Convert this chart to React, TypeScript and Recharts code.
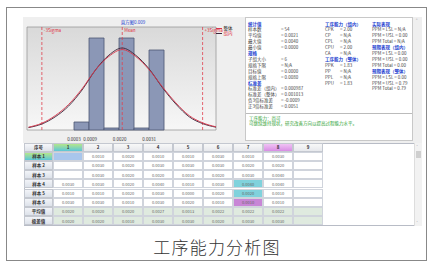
import { ComposedChart, Line, XAxis, YAxis, ReferenceArea, ReferenceLine, Legend } from "recharts";

const FONT = "'Noto Sans CJK SC', 'Noto Sans', sans-serif";

const binStart = [0.0003, 0.00086, 0.00142, 0.00198, 0.00254, 0.0031];
const binEnd = [0.00086, 0.00142, 0.00198, 0.00254, 0.0031, 0.00366];
const binCount = [2, 23, 0.5, 23, 0.5, 20];
const xTicks = [0.0003, 0.0009, 0.002, 0.0031];

// fitted curves
const curveX = [-0.0014, -0.0009, -0.0004, 0.0001, 0.0006, 0.0011, 0.0016, 0.0021, 0.0026, 0.0031, 0.0036, 0.0041, 0.0046, 0.0051, 0.0056];
const withinY = [0.6, 1.5, 3.3, 6.0, 10.0, 15.0, 18.7, 20.5, 18.7, 15.3, 10.6, 6.5, 3.3, 1.6, 0.7];
const overallY = [0.7, 1.7, 3.6, 6.4, 10.3, 15.0, 18.4, 20.1, 18.4, 15.1, 10.8, 6.8, 3.6, 1.8, 0.8];

const sigmaLines = [-0.0009, 0.0021, 0.0051];
const sigmaLabels = ["-3Sigma", "Mean", "+3Sigma"];

const stats1Labels = ["统计值", "样本数", "平均值", "最大值", "最小值", "规格", "子组大小", "规格下限", "目标值", "规格上限", "标准差", "标准差（组内）", "标准差（整体）", "负3倍标准差", "正3倍标准差"];
const stats1Values = [null, "= 54", "= 0.0021", "= 0.0040", "= 0.0000", null, "= 6", "= N/A", "= 0.0000", "= 0.0080", null, "= 0.000987", "= 0.001013", "= -0.0009", "= 0.0051"];
const stats2Labels = ["工序能力（组内）", "CPK", "CP", "CPL", "CPU", "CA", "工序能力（整体）", "PPK", "PP", "PPL", "PPU"];
const stats2Values = [null, "= 2.00", "= N/A", "= N/A", "= 2.00", "= N/A", null, "= 1.83", "= N/A", "= N/A", "= 1.83"];
const stats3Lines = ["实际表现", "PPM < LSL = N/A", "PPM > USL = 0.00", "PPM Total = N/A", "预期表现（组内）", "PPM < LSL = 0.00", "PPM > USL = 0.00", "PPM Total = 0.00", "预期表现（整体）", "PPM < LSL = 0.00", "PPM > USL = 0.79", "PPM Total = 0.79"];
const stats3Heads = [true, false, false, false, true, false, false, false, true, false, false, false];
const noteLines = ["工序能力：尚可", "可继续维持现状，研究改善方向以提高过程能力水平。"];

const colHeaders = ["1", "2", "3", "4", "5", "6", "7", "8", "9"];
const rowLabels = ["样本 1", "样本 2", "样本 3", "样本 4", "样本 5", "样本 6", "平均值", "极差值"];
const sample1 = ["", "0.0010", "0.0020", "0.0010", "0.0010", "0.0030", "0.0010", "0.0030", ""];
const sample2 = ["", "0.0030", "0.0020", "0.0030", "0.0030", "0.0030", "0.0020", "0.0020", ""];
const sample3 = ["", "0.0030", "0.0020", "0.0020", "0.0010", "0.0020", "0.0030", "0.0040", ""];
const sample4 = ["0.0030", "0.0030", "0.0020", "0.0040", "0.0010", "0.0030", "0.0040", "0.0040", ""];
const sample5 = ["0.0010", "0.0010", "0.0020", "0.0030", "0.0000", "0.0020", "0.0020", "0.0010", ""];
const sample6 = ["0.0030", "0.0030", "0.0010", "0.0030", "0.0020", "0.0010", "0.0010", "0.0010", ""];
const averages = ["0.0020", "0.0020", "0.0020", "0.0027", "0.0013", "0.0022", "0.0022", "0.0022", ""];
const ranges = ["0.0020", "0.0020", "0.0010", "0.0030", "0.0030", "0.0020", "0.0030", "0.0030", ""];
const tableRows = [sample1, sample2, sample3, sample4, sample5, sample6, averages, ranges];

const curveData = curveX.map((x, i) => ({ x, within: withinY[i], overall: overallY[i] }));

const renderLegend = (props: any) => (
  <div style={{ fontFamily: FONT, fontSize: 4.5, lineHeight: "5px" }}>
    {(props.payload || []).map((p: any, i: number) => (
      <div key={p.value} style={{ display: "flex", alignItems: "center", color: i === 0 ? "#222" : "#e0303c" }}>
        <span style={{ display: "inline-block", width: 6, borderTop: `1px solid ${p.color}`, marginRight: 1.5 }} />
        {p.value}
      </div>
    ))}
  </div>
);

function StatLine({ x, y, text, head, valueX, value }: any) {
  return (
    <>
      <div style={{ position: "absolute", left: x, top: y, fontSize: 4.5, lineHeight: "5px", whiteSpace: "nowrap", color: head ? "#1d3fd0" : "#444", fontWeight: head ? 700 : 400 }}>{text}</div>
      {value != null && (
        <div style={{ position: "absolute", left: valueX, top: y, fontSize: 4.5, lineHeight: "5px", whiteSpace: "nowrap", color: "#444" }}>{value}</div>
      )}
    </>
  );
}

const ROW_TOP = 142.5;
const ROW_H = 9.2;

function cellBg(r: number, c: number) {
  if (r === 0 && c === 0) return "#a9c6ec";
  if ((r === 3 || r === 4) && c === 6) return "#80d2dc";
  if (r === 5 && c === 6) return "#c886d6";
  if (r >= 6) return "#dfeadf";
  return "#ffffff";
}

export default function App() {
  const STEP = 5.9;
  return (
    <div style={{ position: "absolute", left: 0, top: 0, width: 434, height: 268, background: "#fff", overflow: "hidden", fontFamily: FONT }}>
      {/* frame */}
      <div style={{ position: "absolute", left: 6, top: 7, width: 421, height: 254, border: "1.5px solid #888", boxSizing: "border-box" }} />
      {/* panel background */}
      <div style={{ position: "absolute", left: 23, top: 17, width: 399, height: 126, background: "#efefef" }} />

      {/* chart */}
      <div style={{ position: "absolute", left: 23, top: 17 }}>
        <div style={{ position: "absolute", left: 85, top: 2.5, fontSize: 4.5, lineHeight: "5px", color: "#1d3fd0", width: 50, textAlign: "center" }}>直方图0.009</div>
        <ComposedChart width={220} height={125} data={curveData} margin={{ top: 10, right: 27, bottom: 0, left: 4 }}>
          <defs>
            <linearGradient id="plotBg" x1="0" y1="0" x2="0" y2="1">
              <stop offset="0%" stopColor="#d9d9d9" />
              <stop offset="100%" stopColor="#f7f7f7" />
            </linearGradient>
          </defs>
          <XAxis dataKey="x" type="number" domain={[-0.001455, 0.0056]} ticks={xTicks} interval={0} tickFormatter={(v: number) => v.toFixed(4)} tick={{ fontSize: 4.5, fill: "#333" }} tickLine={false} axisLine={false} height={12} allowDataOverflow />
          <YAxis hide domain={[0, 25.75]} allowDataOverflow />
          <ReferenceArea x1={-0.001455} x2={0.0056} y1={0} y2={25.75} fill="url(#plotBg)" fillOpacity={1} stroke="#9a9a9a" strokeWidth={0.8} ifOverflow="visible" />
          {binStart.map((s, i) => (
            <ReferenceArea key={i} x1={s} x2={binEnd[i]} y1={0} y2={binCount[i]} fill="#8b97b6" fillOpacity={1} stroke="#4d5772" strokeWidth={0.8} />
          ))}
          {sigmaLines.map((v, i) => (
            <ReferenceLine key={i} x={v} stroke="#e0404e" strokeWidth={0.8} strokeDasharray="3 2" label={{ value: sigmaLabels[i], position: "insideTopLeft", offset: 2, fill: "#e0303c", fontSize: 4.5 }} />
          ))}
          <Line dataKey="within" name="组内" type="monotone" stroke="#3a2438" strokeWidth={0.9} dot={false} isAnimationActive={false} />
          <Line dataKey="overall" name="整体" type="monotone" stroke="#d8344a" strokeWidth={0.9} dot={false} isAnimationActive={false} />
          <Legend layout="vertical" align="center" verticalAlign="middle" content={renderLegend} wrapperStyle={{ left: 193, top: 9, width: 30, height: 12 }} />
        </ComposedChart>
      </div>

      {/* stats panel */}
      <div style={{ position: "absolute", left: 245, top: 17, width: 168, height: 124, background: "#fff", border: "0.8px solid #c8c8c8", boxSizing: "border-box" }} />
      <div style={{ position: "absolute", left: 416, top: 17, fontSize: 5, color: "#888" }}>˄</div>
      {stats1Labels.map((t, i) => (
        <StatLine key={"a" + i} x={248} y={21.5 + i * STEP} text={t} head={stats1Values[i] == null} valueX={281} value={stats1Values[i]} />
      ))}
      {stats2Labels.map((t, i) => (
        <StatLine key={"b" + i} x={325} y={21.5 + i * STEP} text={t} head={stats2Values[i] == null} valueX={340} value={stats2Values[i]} />
      ))}
      {stats3Lines.map((t, i) => (
        <StatLine key={"c" + i} x={372} y={21.5 + i * STEP} text={t} head={stats3Heads[i]} />
      ))}
      <div style={{ position: "absolute", left: 246, top: 113, width: 166, borderTop: "0.8px solid #bbb" }} />
      {noteLines.map((t, i) => (
        <div key={"n" + i} style={{ position: "absolute", left: 249, top: 115.5 + i * 5, fontSize: 4.5, lineHeight: "5px", color: "#2aa030", whiteSpace: "nowrap" }}>{t}</div>
      ))}

      {/* table */}
      <div style={{ position: "absolute", left: 24, top: ROW_TOP, width: 398, height: ROW_H * 9 + 1, background: "#fff", border: "0.8px solid #b8bcc6", boxSizing: "border-box" }} />
      <div style={{ position: "absolute", left: 24, top: ROW_TOP, width: 29, height: ROW_H, background: "linear-gradient(#f6f7fa, #dfe3ea)", border: "0.5px solid #c4c8d0", boxSizing: "border-box", fontSize: 4.5, fontWeight: 700, color: "#333", display: "flex", alignItems: "center", justifyContent: "center" }}>序号</div>
      {colHeaders.map((h, c) => (
        <div key={"h" + c} style={{ position: "absolute", left: 53 + c * 30, top: ROW_TOP, width: 30, height: ROW_H, background: c === 0 ? "linear-gradient(#b4e68c, #5cc6d8)" : c === 7 ? "linear-gradient(#f0c2f4, #d88ee4)" : "linear-gradient(#f8f8f8, #e6e8ec)", border: "0.5px solid #c4c8d0", boxSizing: "border-box", fontSize: 4.5, fontWeight: 700, color: "#333", display: "flex", alignItems: "center", justifyContent: "center" }}>{h}</div>
      ))}
      {rowLabels.map((lab, r) => (
        <div key={"r" + r} style={{ position: "absolute", left: 24, top: ROW_TOP + (r + 1) * ROW_H, width: 29, height: ROW_H, background: r === 0 ? "linear-gradient(#b4e68c, #5cc6d8)" : "linear-gradient(#f2f4f8, #dde2ea)", border: "0.5px solid #c4c8d0", boxSizing: "border-box", fontSize: 4.5, fontWeight: 700, color: "#333", display: "flex", alignItems: "center", justifyContent: "center" }}>{lab}</div>
      ))}
      {tableRows.map((row, r) =>
        row.map((v, c) => (
          <div key={r + "-" + c} style={{ position: "absolute", left: 53 + c * 30, top: ROW_TOP + (r + 1) * ROW_H, width: 30, height: ROW_H, background: cellBg(r, c), border: "0.5px solid #d0d4dc", boxSizing: "border-box", fontSize: 4, color: "#666", display: "flex", alignItems: "center", justifyContent: "center" }}>{v}</div>
        ))
      )}
      {/* scrollbar */}
      <div style={{ position: "absolute", left: 414, top: ROW_TOP + 0.5, width: 7, height: ROW_H * 9, background: "#f2f2f2", borderLeft: "0.5px solid #ddd" }}>
        <div style={{ position: "absolute", left: 1, top: 8, width: 5, height: 7, background: "#cfcfcf" }} />
        <div style={{ position: "absolute", left: 1.5, top: 0, fontSize: 4, color: "#777" }}>˄</div>
        <div style={{ position: "absolute", left: 1.5, bottom: 1, fontSize: 4, color: "#777" }}>˅</div>
      </div>

      {/* caption */}
      <div style={{ position: "absolute", left: 0, width: 434, top: 236, textAlign: "center", fontSize: 17, lineHeight: "22px", letterSpacing: 1.2, color: "#333", fontWeight: 300 }}>工序能力分析图</div>
    </div>
  );
}
